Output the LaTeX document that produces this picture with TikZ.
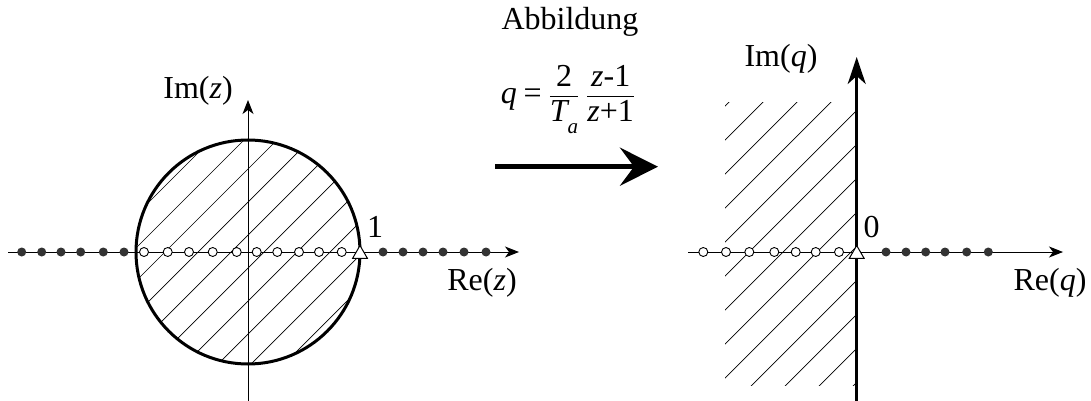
\documentclass[tikz,border=0pt]{standalone}
\usepackage{fontspec}
\setmainfont{Liberation Serif}
\usepackage{amsmath}
\usetikzlibrary{positioning,arrows.meta,shapes.geometric}

\tikzset{
  axis/.style={line width=1pt, -{Stealth[length=14pt,width=11pt,inset=4pt]}},
  pole/.style={circle, fill=black!80, inner sep=0pt, minimum size=9pt},
  zero/.style={circle, draw, fill=white, line width=0.9pt, inner sep=0pt, minimum size=9pt},
  marker/.style={regular polygon, regular polygon sides=3, draw, fill=white,
    line width=1pt, inner sep=0pt, minimum size=17pt, yshift=-2pt},
  hatch/.style={line width=0.7pt},
  lbl/.style={font=\fontsize{32}{38}\selectfont, inner sep=0pt, anchor=base}
}

\begin{document}
\begin{tikzpicture}[x=1pt, y=-1pt]
    \useasboundingbox (0,0) rectangle (1091,401);

    % z-Ebene
    \coordinate (O1) at (248,252);
    \coordinate (zW) at (8,252);
    \coordinate (zE) at (519,252);
    \coordinate (zS) at (248,401);
    \coordinate (zN) at (248,100);
    \begin{scope}
        \clip (O1) circle (112pt);
        \foreach \c in {351,384,...,648}
            \draw[hatch] (\c,0) -- (\c-401,401);
    \end{scope}
    \draw[axis] (zW) -- (zE);
    \draw[axis] (zS) -- (zN);
    \draw[line width=3pt] (O1) circle (112pt);
    \foreach \x [count=\i] in {21.7,41.7,61,80.7,103.3,124,383,403,423,443,464,486}
        \node[pole] (pz\i) at (\x,252) {};
    \foreach \x [count=\i] in {144,167.7,189,212.7,236.7,256.7,277.3,299,319,341.7}
        \node[zero] (nz\i) at (\x,252) {};
    \node[marker] (mz) at (360,252) {};
    \node[lbl] (imz) at (198,99) {Im(\textit{z})};
    \node[lbl] (rez) at (482,290) {Re(\textit{z})};
    \node[lbl] (one) at (375,237) {1};

    % Abbildung
    \coordinate (mapA) at (495,166.7);
    \coordinate (mapB) at (658,166.7);
    \draw[line width=5pt, -{Stealth[length=38pt,width=38pt,inset=14pt]}] (mapA) -- (mapB);
    \node[lbl] (abb) at (570,30) {Abbildung};
    \node[lbl] (form) at (568,103)
        {$\displaystyle \textit{q}\;\text{=}\;
          \frac{\text{2}}{\textit{T}\raisebox{-12pt}{\fontsize{21}{24}\selectfont\textit{a}}}\;
          \frac{\textit{z}\text{-1}}{\textit{z}\text{+1}}$};

    % q-Ebene
    \coordinate (O2) at (856.7,252);
    \coordinate (qW) at (688,252);
    \coordinate (qE) at (1063,252);
    \coordinate (qS) at (856.7,401);
    \coordinate (qN) at (856.7,57);
    \begin{scope}
        \clip (725,103) rectangle (856.7,385);
        \foreach \c in {831,865,...,1239}
            \draw[hatch] (\c,0) -- (\c-401,401);
    \end{scope}
    \draw[axis] (qW) -- (qE);
    \draw[line width=2.5pt, -{Stealth[length=27pt,width=18pt,inset=8pt]}] (qS) -- (qN);
    \foreach \x [count=\i] in {703.3,726,749.3,774.3,795.7,815.7,839}
        \node[zero] (nq\i) at (\x,252) {};
    \foreach \x [count=\i] in {886,906,925.7,945,966.7,988.3}
        \node[pole] (pq\i) at (\x,252) {};
    \node[marker] (mq) at (O2) {};
    \node[lbl] (imq) at (781,67) {Im(\textit{q})};
    \node[lbl] (req) at (1050,290) {Re(\textit{q})};
    \node[lbl] (nul) at (871.5,237) {0};
\end{tikzpicture}
\end{document}
